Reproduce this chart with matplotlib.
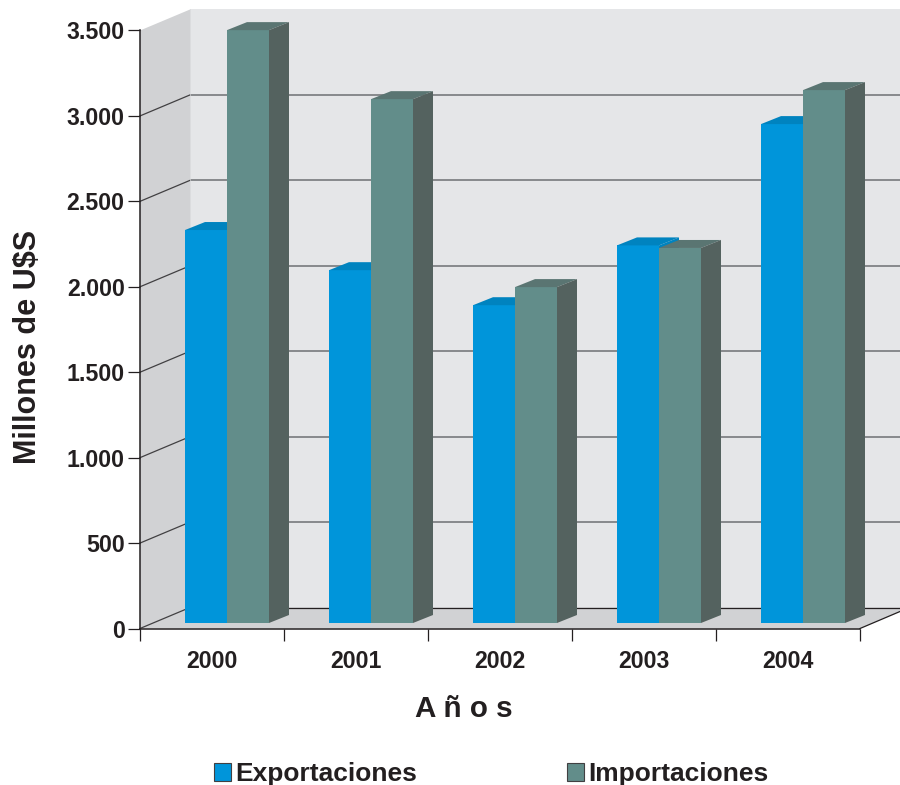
import numpy as np
import matplotlib
matplotlib.use("Agg")
import matplotlib.pyplot as plt
from matplotlib.patches import Polygon, Patch

plt.rcParams['font.family'] = ['Liberation Sans', 'DejaVu Sans']
plt.rcParams['font.weight'] = 'bold'

years = ['2000', '2001', '2002', '2003', '2004']
exportaciones = [2300, 2065, 1860, 2210, 2920]
importaciones = [3470, 3066, 1966, 2195, 3119]
y_ticks = [0, 500, 1000, 1500, 2000, 2500, 3000, 3500]
y_tick_labels = ['0', '500', '1.000', '1.500', '2.000', '2.500', '3.000', '3.500']

INK = '#231f20'
BLUE = ('#0095da', '#0083bf', '#0083bf')
TEAL = ('#628d8a', '#5a7572', '#54625f')

# one axes over the whole figure, pixel sizes converted to data units
fig = plt.figure(figsize=(9, 7.85), dpi=100)
ax = fig.add_axes([0, 0, 1, 1])
PX_X = 1 / 144
PX_Y = 3500 / 598
ax.set_xlim(-212 * PX_X, 688 * PX_X)
ax.set_ylim(-156.5 * PX_Y, 628.5 * PX_Y)
ax.patch.set_visible(False)

x_left = -0.5
wall_dx, wall_dy = 50 * PX_X, 21 * PX_Y
x_end = 688 * PX_X
x_front_end = 4.5
top = 3500

# walls and floor
ax.add_patch(Polygon([(x_left + wall_dx, wall_dy), (x_end, wall_dy), (x_end, top + wall_dy),
                      (x_left + wall_dx, top + wall_dy)], fc='#e5e6e8', ec='none', zorder=1))
ax.add_patch(Polygon([(x_left, 0), (x_left + wall_dx, wall_dy), (x_left + wall_dx, top + wall_dy),
                      (x_left, top)], fc='#d1d2d4', ec='none', zorder=1))
ax.add_patch(Polygon([(x_left, 0), (x_left + wall_dx, wall_dy), (x_end, wall_dy),
                      (x_end, 17 * PX_Y), (x_front_end, 0)], fc='#d1d2d4', ec='none', zorder=1))

# grid lines, bent along the side wall
for t in y_ticks[:-1]:
    color = INK if t == 0 else '#808285'
    ax.plot([x_left + wall_dx, x_end], [t + wall_dy] * 2, color=color, lw=0.9 if t == 0 else 1.3,
            zorder=2, solid_capstyle='butt')
    ax.plot([x_left, x_left + wall_dx], [t, t + wall_dy], color='#414042', lw=0.9, zorder=2)
ax.plot([x_front_end, x_end], [0, 17 * PX_Y], color=INK, lw=0.9, zorder=2)
ax.plot([x_left + wall_dx] * 2, [wall_dy, top + wall_dy], color='#d8d9db', lw=0.5, zorder=2)

bar_w = 42 * PX_X
base = 5.5 * PX_Y
shift = 15 * PX_X
dep_x, dep_y = 20 * PX_X, 8 * PX_Y


def draw_bar(x0, value, colors, z):
    front, upper, side = colors
    y1 = base + value
    ax.bar(x0, value, width=bar_w, bottom=base, align='edge', color=front, zorder=z)
    x1 = x0 + bar_w
    ax.add_patch(Polygon([(x0, y1), (x1, y1), (x1 + dep_x, y1 + dep_y), (x0 + dep_x, y1 + dep_y)],
                         fc=upper, ec='none', zorder=z))
    ax.add_patch(Polygon([(x1, base), (x1 + dep_x, base + dep_y), (x1 + dep_x, y1 + dep_y), (x1, y1)],
                         fc=side, ec='none', zorder=z))


for i in range(len(years)):
    draw_bar(i + shift - bar_w, exportaciones[i], BLUE, 3 + i * 2)
    draw_bar(i + shift, importaciones[i], TEAL, 4 + i * 2)

# axes
for name in ['top', 'right']:
    ax.spines[name].set_visible(False)
ax.spines['left'].set_position(('data', x_left))
ax.spines['left'].set_bounds(0, top)
ax.spines['bottom'].set_position(('data', 0))
ax.spines['bottom'].set_bounds(x_left, x_front_end)
for name in ['left', 'bottom']:
    ax.spines[name].set_color(INK)
    ax.spines[name].set_linewidth(1.1)
    ax.spines[name].set_zorder(20)

ax.set_yticks(y_ticks)
ax.set_yticklabels(y_tick_labels)
ax.set_xticks(np.arange(6) - 0.5)
ax.set_xticklabels([])
ax.set_xticks(np.arange(5), labels=years, minor=True)
ax.tick_params(axis='y', length=8.5, width=0.9, color=INK, pad=2.5, labelsize=16.7, labelcolor=INK)
ax.tick_params(axis='x', which='major', length=8.5, width=0.9, color=INK)
ax.tick_params(axis='x', which='minor', length=0, pad=15.5, labelsize=16.7, labelcolor=INK)

fig.text(28 / 900, 1 - 347 / 785, 'Millones de U$S', rotation=90, fontsize=22, color=INK,
         ha='center', va='center')
fig.text(464 / 900, 1 - 709 / 785, 'A ñ o s', fontsize=21.3, color=INK, ha='center', va='center')

handles = [Patch(fc=BLUE[0], ec='#414042', lw=0.8), Patch(fc=TEAL[0], ec='#414042', lw=0.8)]
ax.legend(handles, ['Exportaciones', 'Importaciones'], ncol=2, frameon=False,
          loc='center left', bbox_to_anchor=(214 / 900, 1 - 774 / 785), fontsize=19,
          labelcolor=INK, handlelength=0.65, handleheight=0.65, handletextpad=0.17,
          columnspacing=5.65, borderpad=0, borderaxespad=0)

fig.savefig('out.png', dpi=100)
